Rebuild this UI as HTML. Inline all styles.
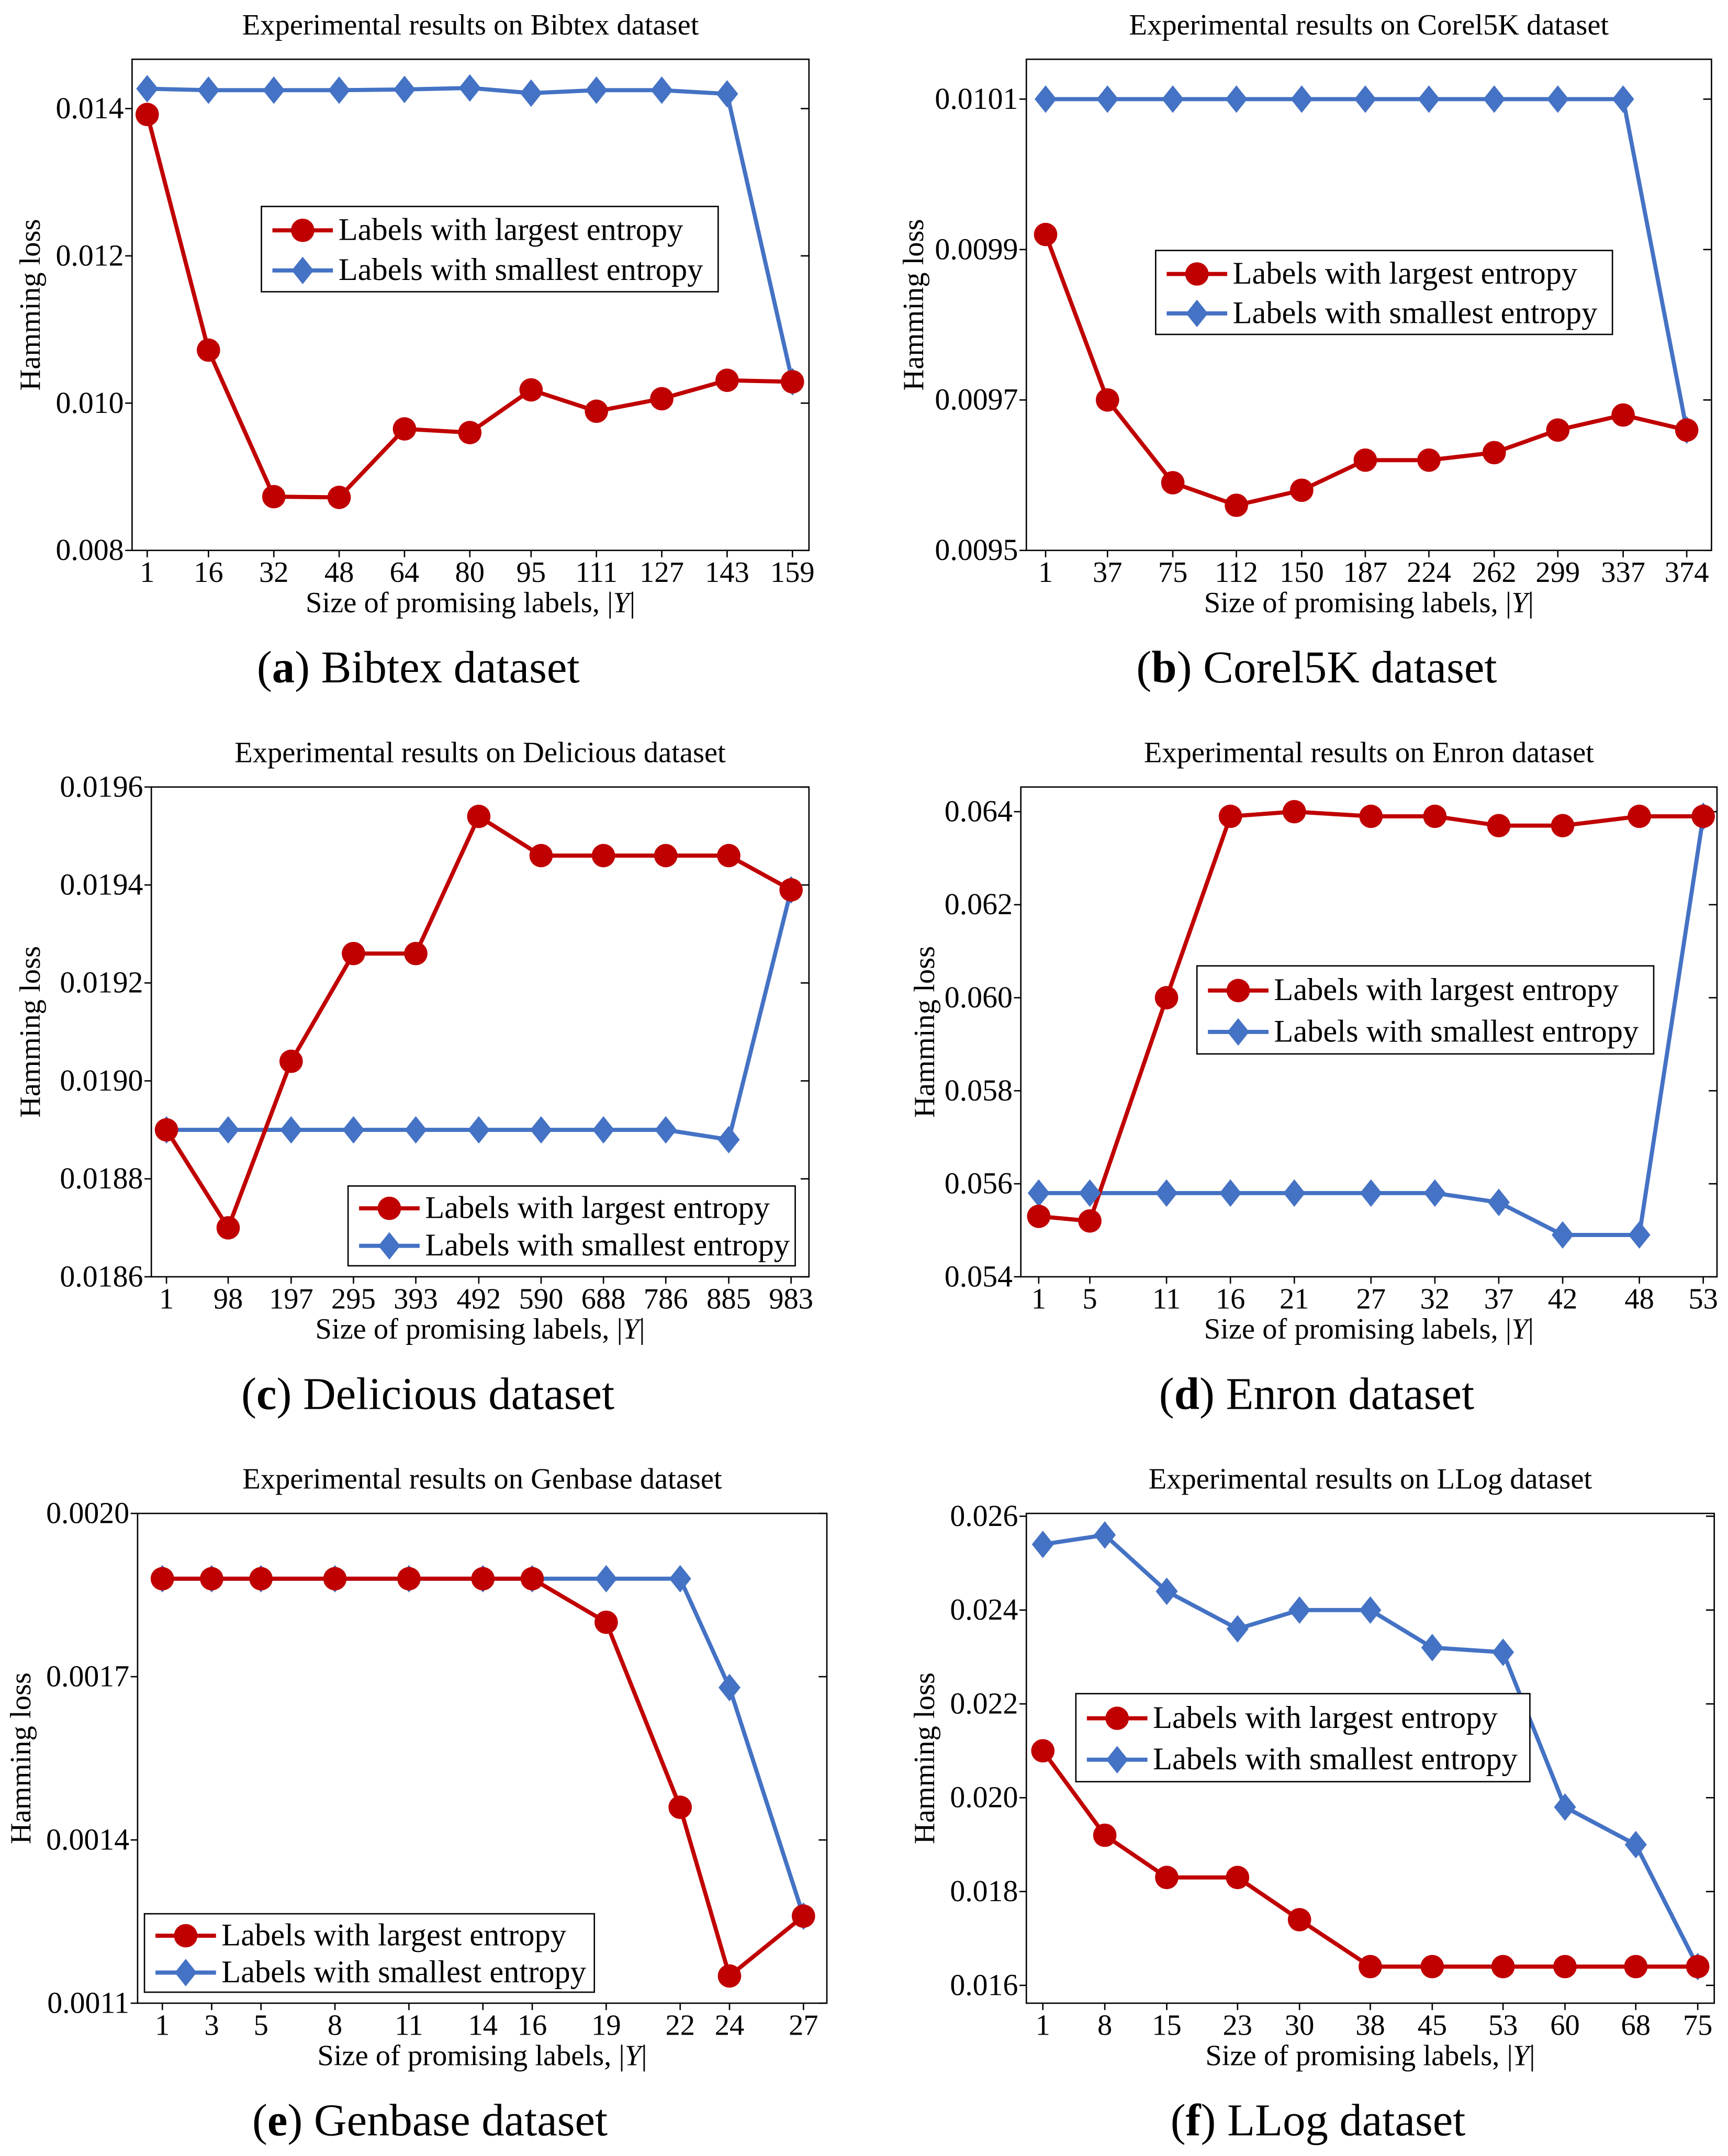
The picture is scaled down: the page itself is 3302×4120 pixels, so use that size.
<!DOCTYPE html>
<html><head><meta charset="utf-8"><style>
html,body{margin:0;padding:0;background:#fff}
svg{display:block}
text{font-family:"Liberation Serif",serif;fill:#000}
</style></head><body>
<svg id="fig" width="3302" height="4120" viewBox="0 0 1256 1567" xmlns="http://www.w3.org/2000/svg"></svg>
<script>
// ---- data ----
const catsA = [1,16,32,48,64,80,95,111,127,143,159];
const redA = [0.01392,0.01072,0.00873,0.00872,0.00965,0.00960,0.01018,0.00989,0.01006,0.01031,0.01029];
const blueA = [0.01427,0.01425,0.01425,0.01425,0.01426,0.01428,0.01421,0.01425,0.01425,0.01420,0.01029];
const ticksA = [0.008,0.010,0.012,0.014];

const catsB = [1,37,75,112,150,187,224,262,299,337,374];
const redB = [0.00992,0.00970,0.00959,0.00956,0.00958,0.00962,0.00962,0.00963,0.00966,0.00968,0.00966];
const blueB = [0.0101,0.0101,0.0101,0.0101,0.0101,0.0101,0.0101,0.0101,0.0101,0.0101,0.00966];
const ticksB = [0.0095,0.0097,0.0099,0.0101];

const catsC = [1,98,197,295,393,492,590,688,786,885,983];
const redC = [0.01890,0.01870,0.01904,0.01926,0.01926,0.01954,0.01946,0.01946,0.01946,0.01946,0.01939];
const blueC = [0.01890,0.01890,0.01890,0.01890,0.01890,0.01890,0.01890,0.01890,0.01890,0.01888,0.01939];
const ticksC = [0.0186,0.0188,0.0190,0.0192,0.0194,0.0196];

const catsD = [1,5,11,16,21,27,32,37,42,48,53];
const redD = [0.0553,0.0552,0.0600,0.0639,0.0640,0.0639,0.0639,0.0637,0.0637,0.0639,0.0639];
const blueD = [0.0558,0.0558,0.0558,0.0558,0.0558,0.0558,0.0558,0.0556,0.0549,0.0549,0.0639];
const ticksD = [0.054,0.056,0.058,0.060,0.062,0.064];

const catsE = [1,3,5,8,11,14,16,19,22,24,27];
const redE = [0.00188,0.00188,0.00188,0.00188,0.00188,0.00188,0.00188,0.00180,0.00146,0.00115,0.00126];
const blueE = [0.00188,0.00188,0.00188,0.00188,0.00188,0.00188,0.00188,0.00188,0.00188,0.00168,0.00126];
const ticksE = [0.0011,0.0014,0.0017,0.0020];

const catsF = [1,8,15,23,30,38,45,53,60,68,75];
const redF = [0.0210,0.0192,0.0183,0.0183,0.0174,0.0164,0.0164,0.0164,0.0164,0.0164,0.0164];
const blueF = [0.0254,0.0256,0.0244,0.0236,0.0240,0.0240,0.0232,0.0231,0.0198,0.0190,0.0164];
const ticksF = [0.016,0.018,0.020,0.022,0.024,0.026];

const NS="http://www.w3.org/2000/svg";
const svg=document.getElementById('fig');
function mk(tag,attrs,parent){const e=document.createElementNS(NS,tag);for(const k in attrs)e.setAttribute(k,attrs[k]);(parent||svg).appendChild(e);return e;}

const panels=[
 {id:'a',name:'Bibtex',cats:catsA,red:redA,blue:blueA,ticks:ticksA,dec:3,box:[96,43,588,400],ymin:0.008,ymax:0.01467,x0:107,x1:576,leg:[190,150,522,212],ylx:22},
 {id:'b',name:'Corel5K',cats:catsB,red:redB,blue:blueB,ticks:ticksB,dec:4,box:[746,43,1244,400],ymin:0.0095,ymax:0.010153,x0:760,x1:1226,leg:[840,182,1172,243],ylx:664},
 {id:'c',name:'Delicious',cats:catsC,red:redC,blue:blueC,ticks:ticksC,dec:4,box:[110,572,588,928],ymin:0.0186,ymax:0.0196,x0:121,x1:575,leg:[253,862,578,920],ylx:22},
 {id:'d',name:'Enron',cats:catsD,red:redD,blue:blueD,ticks:ticksD,dec:3,box:[742,572,1248,928],ymin:0.054,ymax:0.06453,x0:755,x1:1238,leg:[870,702,1202,766],ylx:672},
 {id:'e',name:'Genbase',cats:catsE,red:redE,blue:blueE,ticks:ticksE,dec:4,box:[100,1100,601,1456],ymin:0.0011,ymax:0.0020,x0:118,x1:584,leg:[105,1391,432,1448],ylx:15},
 {id:'f',name:'LLog',cats:catsF,red:redF,blue:blueF,ticks:ticksF,dec:3,box:[746,1100,1246,1456],ymin:0.01562,ymax:0.02606,x0:758,x1:1234,leg:[782,1231,1112,1295],ylx:672}
];
const RED='#c00000',BLUE='#4472c4';
function diamond(g,x,y,nm){const p=mk('path',{d:`M${x} ${y-10}L${x+8} ${y}L${x} ${y+10}L${x-8} ${y}Z`,fill:BLUE},g);}
function circ(g,x,y,nm){const c=mk('circle',{cx:x,cy:y,r:8.5,fill:RED},g);}

panels.forEach(P=>{
 const g=mk('g',{});
 
 
 const [L,T,R,B]=P.box;
 const c0=P.cats[0],c1=P.cats[P.cats.length-1];
 const sx=v=>P.x0+(v-c0)*(P.x1-P.x0)/(c1-c0);
 const sy=v=>B-(v-P.ymin)*(B-T)/(P.ymax-P.ymin);
 const cx=(L+R)/2;
 const t=mk('text',{x:cx,y:T-18,'font-size':21.5,'text-anchor':'middle'},g);t.textContent='Experimental results on '+P.name+' dataset';
 
 const fr=mk('rect',{x:L,y:T,width:R-L,height:B-T,fill:'none',stroke:'#000','stroke-width':1},g);
 
 P.ticks.forEach(v=>{const y=sy(v);
  mk('line',{x1:L-5,x2:L,y1:y,y2:y,stroke:'#000'},g);mk('line',{x1:R-6,x2:R,y1:y,y2:y,stroke:'#000'},g);
  const tx=mk('text',{x:L-6,y:y+7,'font-size':22,'text-anchor':'end'},g);tx.textContent=v.toFixed(P.dec);
  });
 P.cats.forEach(v=>{const x=sx(v);
  mk('line',{x1:x,x2:x,y1:B,y2:B+5,stroke:'#000'},g);
  const tx=mk('text',{x:x,y:B+23,'font-size':21.5,'text-anchor':'middle'},g);tx.textContent=v;
  });
 const xl=mk('text',{x:cx,y:B+45,'font-size':21.5,'text-anchor':'middle'},g);
 xl.innerHTML='Size of promising labels, |<tspan font-style="italic">Y</tspan>|';
 
 const yl=mk('text',{x:0,y:0,'font-size':21.5,'text-anchor':'middle',transform:`translate(${P.ylx+7},${(T+B)/2}) rotate(-90)`},g);yl.textContent='Hamming loss';
 
 const cap=mk('text',{x:cx-38,y:B+96,'font-size':33,'text-anchor':'middle'},g);
 cap.innerHTML='(<tspan font-weight="bold">'+P.id+'</tspan>) '+P.name+' dataset';
 
 const bp=P.cats.map((c,i)=>sx(c)+','+sy(P.blue[i])).join(' ');
 const bl=mk('polyline',{points:bp,fill:'none',stroke:BLUE,'stroke-width':3},g);
 const rp=P.cats.map((c,i)=>sx(c)+','+sy(P.red[i])).join(' ');
 const rl=mk('polyline',{points:rp,fill:'none',stroke:RED,'stroke-width':3},g);
 P.cats.forEach((c,i)=>diamond(g,sx(c),sy(P.blue[i]),'smallest-entropy-point'));
 P.cats.forEach((c,i)=>circ(g,sx(c),sy(P.red[i]),'largest-entropy-point'));
 const [a,b,c2,d]=P.leg;
 const lg=mk('g',{},g);
 mk('rect',{x:a,y:b,width:c2-a,height:d-b,fill:'#fff',stroke:'#000'},lg);
 const y1=b+(d-b)*0.28,y2=b+(d-b)*0.75;
 mk('line',{x1:a+8,x2:a+52,y1:y1,y2:y1,stroke:RED,'stroke-width':3},lg);circ(lg,a+30,y1,'legend-marker-largest');
 mk('line',{x1:a+8,x2:a+52,y1:y2,y2:y2,stroke:BLUE,'stroke-width':3},lg);diamond(lg,a+30,y2,'legend-marker-smallest');
 const e1=mk('text',{x:a+56,y:y1+7,'font-size':23},lg);e1.textContent='Labels with largest entropy';
 
 const e2=mk('text',{x:a+56,y:y2+7,'font-size':23},lg);e2.textContent='Labels with smallest entropy';
 
});
</script>
</body></html>
